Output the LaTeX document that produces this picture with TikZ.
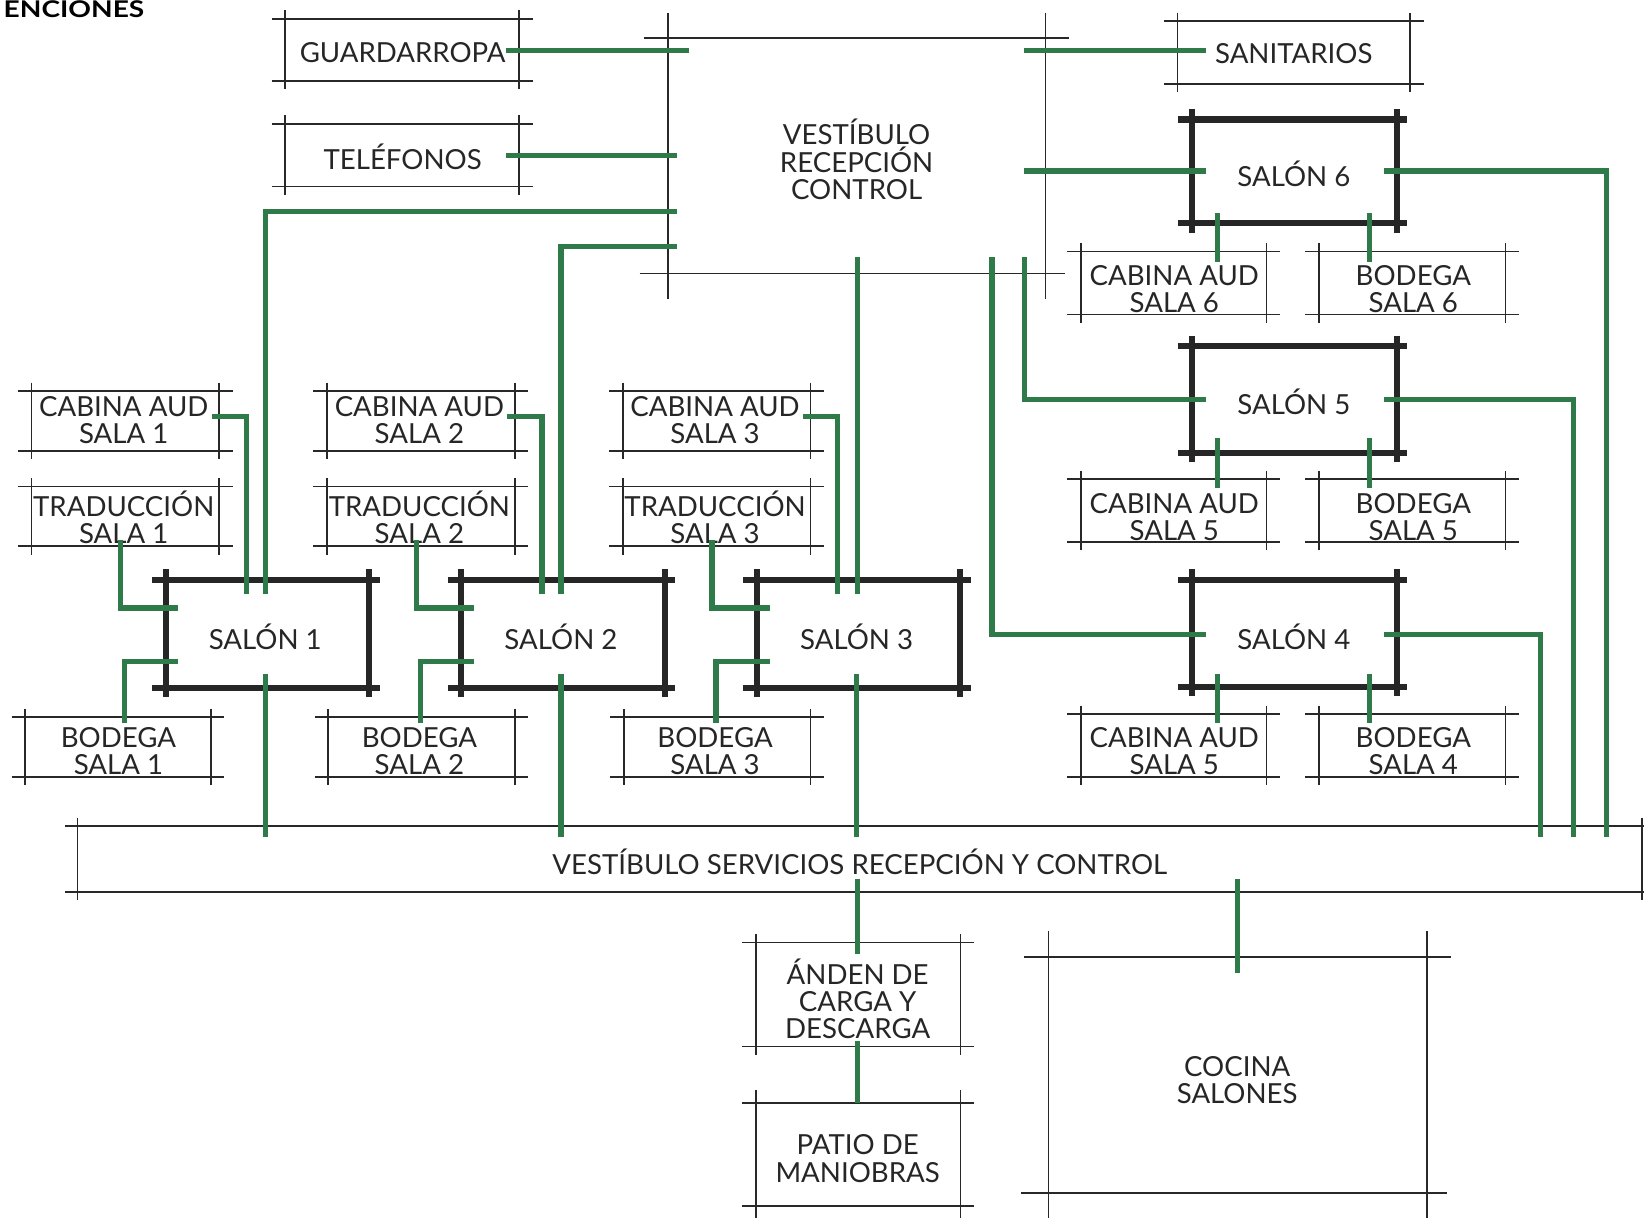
\documentclass[tikz,border=0pt]{standalone}
\usepackage{fontspec}
\setmainfont{Lato}
\definecolor{grn}{RGB}{46,122,72}
\definecolor{drk}{RGB}{38,38,38}
\definecolor{thn}{RGB}{40,40,40}
\tikzset{
  thinl/.style={draw=thn, line width=0.85pt},
  thickl/.style={draw=drk, line width=3.3pt},
  gl/.style={draw=grn, line width=2.9pt},
  lbl/.style={font=\fontsize{15}{14.7}\selectfont, align=center, inner sep=0pt, text=black!85}
}
\newcommand\thinframe[4]{%
  \draw[thinl] (#1-13,#3) -- (#2+13,#3);
  \draw[thinl] (#1-13,#4) -- (#2+13,#4);
  \draw[thinl] (#1,#3-8) -- (#1,#4+8);
  \draw[thinl] (#2,#3-8) -- (#2,#4+8);}
\newcommand\salonframe[4]{%
  \draw[thickl] (#1-13,#3) -- (#2+10,#3);
  \draw[thickl] (#1-13,#4) -- (#2+10,#4);
  \draw[thickl] (#1,#3-10) -- (#1,#4+9);
  \draw[thickl] (#2,#3-10) -- (#2,#4+9);}
\begin{document}
\begin{tikzpicture}[x=0.02cm, y=-0.02cm]
\useasboundingbox (0,0) rectangle (1568,1161);
\fill[white] (0,0) rectangle (1568,1161);

% title
\node[font=\fontsize{12.5}{12.5}\bfseries, anchor=base east, inner sep=0pt] (title) at (138,17) {\scalebox{1.22}[1]{ENCIONES}};

% vestibulo recepcion control
\draw[thinl] (637,12) -- (637,285);
\draw[thinl] (997,12) -- (997,285);
\draw[thinl] (614,36) -- (1020,36);
\draw[thinl] (610,261) -- (1016,261);
\node[lbl] (vest) at (817,152) {VESTÍBULO\\RECEPCIÓN\\CONTROL};

% top boxes
\thinframe{272}{495}{18}{77}
\node[lbl] (guard) at (384,50) {GUARDARROPA};
\thinframe{272}{495}{118}{178}
\node[lbl] (tel) at (384,150) {TELÉFONOS};
\thinframe{1123}{1345}{20}{80}
\node[lbl] (sanit) at (1234,51) {SANITARIOS};

% left salones and their rooms
\foreach \i/\dx in {1/0, 2/282, 3/564} {
  \salonframe{158+\dx}{352+\dx}{553}{656}
  \node[lbl] (salon\i) at (253+\dx,607) {SALÓN \i};
  \thinframe{30+\dx}{209+\dx}{373}{430}
  \node[lbl] (cab\i) at (118+\dx,401) {CABINA AUD\\SALA \i};
  \thinframe{30+\dx}{209+\dx}{464}{521}
  \node[lbl] (trad\i) at (118+\dx,493) {TRADUCCIÓN\\SALA \i};
}
\thinframe{24}{201}{684}{741}
\node[lbl] (bod1) at (113,716) {BODEGA\\SALA 1};
\thinframe{313}{491}{684}{741}
\node[lbl] (bod2) at (400,716) {BODEGA\\SALA 2};
\thinframe{595}{773}{684}{741}
\node[lbl] (bod3) at (682,716) {BODEGA\\SALA 3};

% right salones
\salonframe{1137}{1332}{114}{213}
\node[lbl] (salon6) at (1234,166) {SALÓN 6};
\salonframe{1137}{1332}{330}{432}
\node[lbl] (salon5) at (1234,383) {SALÓN 5};
\salonframe{1137}{1332}{553}{655}
\node[lbl] (salon4) at (1234,607) {SALÓN 4};

\thinframe{1031}{1208}{240}{300}
\node[lbl] (cab6) at (1120,276) {CABINA AUD\\SALA 6};
\thinframe{1258}{1436}{240}{300}
\node[lbl] (bod6) at (1348,276) {BODEGA\\SALA 6};
\thinframe{1031}{1208}{457}{517}
\node[lbl] (cab5) at (1120,493) {CABINA AUD\\SALA 5};
\thinframe{1258}{1436}{457}{517}
\node[lbl] (bod5) at (1348,493) {BODEGA\\SALA 5};
\thinframe{1031}{1208}{681}{741}
\node[lbl] (cab4) at (1120,716) {CABINA AUD\\SALA 5};
\thinframe{1258}{1436}{681}{741}
\node[lbl] (bod4) at (1348,716) {BODEGA\\SALA 4};

% vestibulo servicios
\draw[thinl] (62,788) -- (1575,788);
\draw[thinl] (62,851) -- (1575,851);
\draw[thinl] (74,780) -- (74,858);
\draw[thinl] (1566,780) -- (1566,858);
\node[lbl] (vserv) at (820,822) {VESTÍBULO SERVICIOS RECEPCIÓN Y CONTROL};

% bottom rooms
\thinframe{721}{916}{899}{998}
\node[lbl] (anden) at (818,953) {ÁNDEN DE\\CARGA Y\\DESCARGA};
\draw[thinl] (708,1052) -- (929,1052);
\draw[thinl] (708,1150) -- (929,1150);
\draw[thinl] (721,1040) -- (721,1165);
\draw[thinl] (916,1040) -- (916,1165);
\node[lbl] (patio) at (818,1105) {PATIO DE\\MANIOBRAS};
\draw[thinl] (977,913) -- (1384,913);
\draw[thinl] (974,1138) -- (1380,1138);
\draw[thinl] (1000,888) -- (1000,1165);
\draw[thinl] (1361,888) -- (1361,1165);
\node[lbl] (cocina) at (1180,1030) {COCINA\\SALONES};

% green connectors
\draw[gl] (483,48) -- (657,48);
\draw[gl] (483,148) -- (646,148);
\draw[gl] (646,202) -- (253,202) -- (253,567);
\draw[gl] (646,235) -- (535,235) -- (535,567);
\draw[gl] (977,48) -- (1150,48);
\draw[gl] (977,163) -- (1150,163);
\draw[gl] (818,245) -- (818,567);
\draw[gl] (977,245) -- (977,381) -- (1150,381);
\draw[gl] (946,245) -- (946,605) -- (1150,605);
\draw[gl] (1320,163) -- (1532,163) -- (1532,798);
\draw[gl] (1320,381) -- (1501,381) -- (1501,798);
\draw[gl] (1320,605) -- (1469,605) -- (1469,798);
\foreach \y in {203, 418, 643} {
  \draw[gl] (1161,\y) -- (1161,\y+47);
  \draw[gl] (1306,\y) -- (1306,\y+47);
}
\foreach \dx in {0, 282, 564} {
  \draw[gl] (202+\dx,397) -- (235+\dx,397) -- (235+\dx,567);
  \draw[gl] (115+\dx,515) -- (115+\dx,580) -- (170+\dx,580);
  \draw[gl] (119+\dx,690) -- (119+\dx,631) -- (170+\dx,631);
  \draw[gl] (253+\dx,643) -- (253+\dx,798);
}
\draw[gl] (818,838) -- (818,910);
\draw[gl] (1180,838) -- (1180,928);
\draw[gl] (818,993) -- (818,1052);
\end{tikzpicture}
\end{document}
